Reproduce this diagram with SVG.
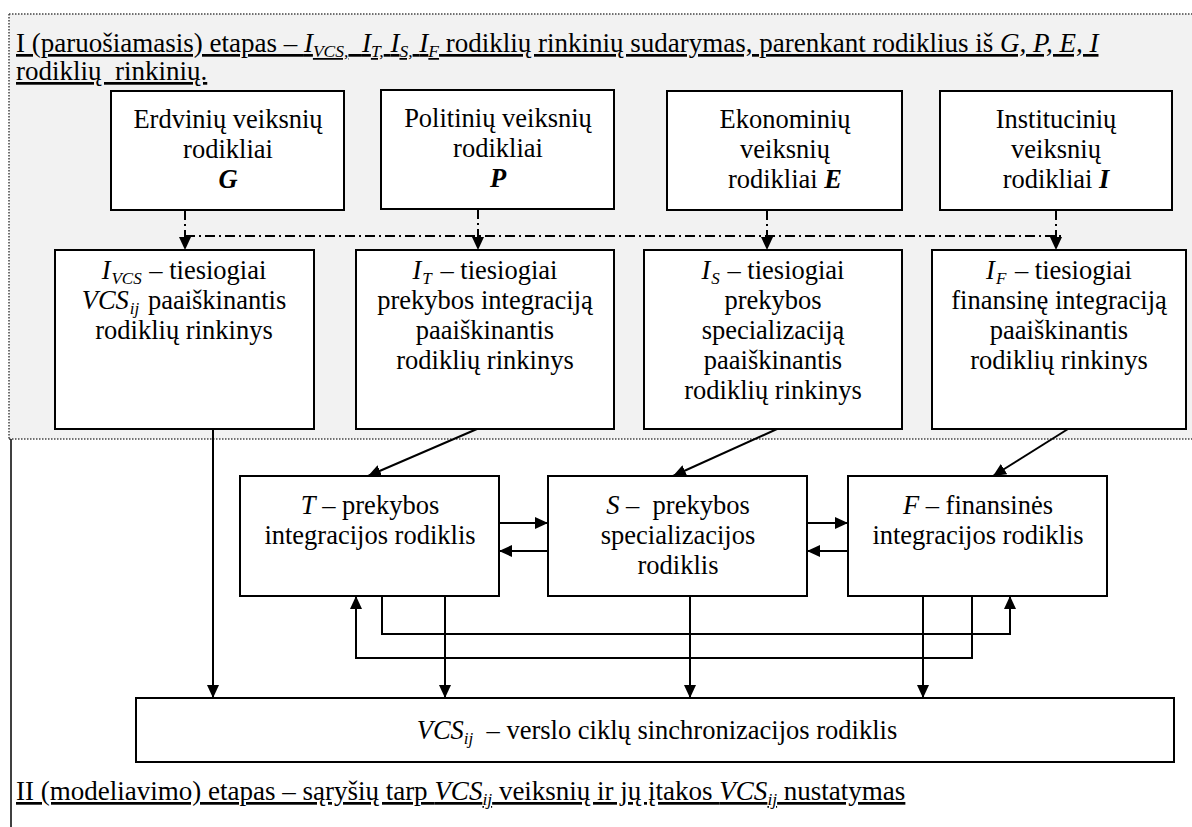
<svg xmlns="http://www.w3.org/2000/svg" width="1192" height="827" viewBox="0 0 1192 827">
  <defs>
    <marker id="arrow" markerUnits="userSpaceOnUse" markerWidth="14" markerHeight="12" refX="13" refY="6" orient="auto">
      <path d="M0,0 L13,6 L0,12 z" fill="#000"/>
    </marker>
    <style>
      text { font-family: "Liberation Serif", "Times New Roman", serif; font-size: 26.5px; fill: #000; }
      .c { text-anchor: middle; }
      .i { font-style: italic; }
      .bi { font-style: italic; font-weight: bold; }
      .sub { font-size: 17px; }
      .u { text-decoration: underline; font-size: 27px; }
      .u .sub { font-size: 17.5px; }
      .box { fill: #fff; stroke: #000; stroke-width: 2; }
      .wire { fill: none; stroke: #000; stroke-width: 2; }
      .dd { fill: none; stroke: #000; stroke-width: 2; stroke-dasharray: 10 4 2 4; }
      .frame { fill: none; stroke: #444; stroke-width: 1.5; stroke-dasharray: 1.5 1.5; }
    </style>
  </defs>

  <rect x="0" y="0" width="1192" height="827" fill="#fff"/>

  <!-- stage I area -->
  <g id="stage1">
    <rect x="9" y="14" width="1183" height="425" fill="#f2f2f2"/>
    <path class="frame" d="M9,14 H1192 M9,14 V439 M9,439 H1192"/>
    <text x="16" y="52" class="u" xml:space="preserve">I (paruošiamasis) etapas – <tspan class="i">I</tspan><tspan class="i sub" dy="5">VCS,</tspan><tspan dy="-5">  </tspan><tspan class="i">I</tspan><tspan class="i sub" dy="5">T,</tspan><tspan dy="-5"> </tspan><tspan class="i">I</tspan><tspan class="i sub" dy="5">S,</tspan><tspan dy="-5"> </tspan><tspan class="i">I</tspan><tspan class="i sub" dy="5">F</tspan><tspan dy="-5"> rodiklių rinkinių sudarymas, parenkant rodiklius iš </tspan><tspan class="i">G, P, E, I</tspan></text>
    <text x="16" y="80" class="u" xml:space="preserve">rodiklių  rinkinių.</text>
  </g>

  <!-- stage II area -->
  <g id="stage2">
    <path d="M11,439 V827" stroke="#000" stroke-width="1.5" fill="none"/>
    <text x="16" y="800" class="u">II (modeliavimo) etapas – sąryšių tarp <tspan class="i">VCS</tspan><tspan class="i sub" dy="5">ij</tspan><tspan dy="-5"> veiksnių ir jų įtakos </tspan><tspan class="i">VCS</tspan><tspan class="i sub" dy="5">ij</tspan><tspan dy="-5"> nustatymas</tspan></text>
  </g>

  <!-- factor groups -->
  <g id="node-G">
    <rect class="box" x="111" y="91" width="233" height="119"/>
    <text class="c" x="228" y="128">Erdvinių veiksnių</text>
    <text class="c" x="228" y="158">rodikliai</text>
    <text class="c bi" x="228" y="188">G</text>
  </g>
  <g id="node-P">
    <rect class="box" x="381" y="90" width="233" height="119"/>
    <text class="c" x="498" y="127">Politinių veiksnių</text>
    <text class="c" x="498" y="157">rodikliai</text>
    <text class="c bi" x="498" y="187">P</text>
  </g>
  <g id="node-E">
    <rect class="box" x="667" y="91" width="235" height="119"/>
    <text class="c" x="785" y="128">Ekonominių</text>
    <text class="c" x="785" y="158">veiksnių</text>
    <text class="c" x="785" y="188">rodikliai <tspan class="bi">E</tspan></text>
  </g>
  <g id="node-I">
    <rect class="box" x="940" y="91" width="232" height="119"/>
    <text class="c" x="1056" y="128">Institucinių</text>
    <text class="c" x="1056" y="158">veiksnių</text>
    <text class="c" x="1056" y="188">rodikliai <tspan class="bi">I</tspan></text>
  </g>

  <!-- indicator sets -->
  <g id="node-IVCS">
    <rect class="box" x="55" y="250" width="259" height="179"/>
    <text class="c" x="184" y="279"><tspan class="i">I</tspan><tspan class="i sub" dy="5" dx="1">VCS</tspan><tspan dy="-5" dx="1"> – tiesiogiai</tspan></text>
    <text class="c" x="184" y="309"><tspan class="i">VCS</tspan><tspan class="i sub" dy="5" dx="1">ij</tspan><tspan dy="-5" dx="2"> paaiškinantis</tspan></text>
    <text class="c" x="184" y="339">rodiklių rinkinys</text>
  </g>
  <g id="node-IT">
    <rect class="box" x="356" y="250" width="258" height="179"/>
    <text class="c" x="485" y="279"><tspan class="i">I</tspan><tspan class="i sub" dy="5" dx="1">T</tspan><tspan dy="-5" dx="2"> – tiesiogiai</tspan></text>
    <text class="c" x="485" y="309">prekybos integraciją</text>
    <text class="c" x="485" y="339">paaiškinantis</text>
    <text class="c" x="485" y="369">rodiklių rinkinys</text>
  </g>
  <g id="node-IS">
    <rect class="box" x="644" y="250" width="258" height="179"/>
    <text class="c" x="773" y="279"><tspan class="i">I</tspan><tspan class="i sub" dy="5" dx="1">S</tspan><tspan dy="-5" dx="1"> – tiesiogiai</tspan></text>
    <text class="c" x="773" y="309">prekybos</text>
    <text class="c" x="773" y="339">specializaciją</text>
    <text class="c" x="773" y="369">paaiškinantis</text>
    <text class="c" x="773" y="399">rodiklių rinkinys</text>
  </g>
  <g id="node-IF">
    <rect class="box" x="932" y="250" width="254" height="179"/>
    <text class="c" x="1059" y="279"><tspan class="i">I</tspan><tspan class="i sub" dy="5" dx="1">F</tspan><tspan dy="-5" dx="2"> – tiesiogiai</tspan></text>
    <text class="c" x="1059" y="309">finansinę integraciją</text>
    <text class="c" x="1059" y="339">paaiškinantis</text>
    <text class="c" x="1059" y="369">rodiklių rinkinys</text>
  </g>

  <!-- integration indicators -->
  <g id="node-T">
    <rect class="box" x="240" y="476" width="259" height="120"/>
    <text class="c" x="370" y="514"><tspan class="i">T</tspan> – prekybos</text>
    <text class="c" x="370" y="544">integracijos rodiklis</text>
  </g>
  <g id="node-S">
    <rect class="box" x="548" y="476" width="259" height="120"/>
    <text class="c" x="678" y="514" xml:space="preserve"><tspan class="i">S</tspan> –  prekybos</text>
    <text class="c" x="678" y="544">specializacijos</text>
    <text class="c" x="678" y="574">rodiklis</text>
  </g>
  <g id="node-F">
    <rect class="box" x="848" y="476" width="259" height="120"/>
    <text class="c" x="978" y="514"><tspan class="i">F</tspan> – finansinės</text>
    <text class="c" x="978" y="544">integracijos rodiklis</text>
  </g>

  <!-- synchronization indicator -->
  <g id="node-VCS">
    <rect class="box" x="136" y="698" width="1038" height="64"/>
    <text class="c" x="657" y="739" xml:space="preserve"><tspan class="i">VCS</tspan><tspan class="i sub" dy="5">ij</tspan><tspan dy="-5">  – verslo ciklų sinchronizacijos rodiklis</tspan></text>
  </g>

  <!-- connectors -->
  <g id="connectors">
    <!-- selection of indicators (dash-dot) -->
    <path class="dd" d="M185,236 H1064"/>
    <path class="dd" d="M185,210 V250" marker-end="url(#arrow)"/>
    <path class="dd" d="M478,209 V250" marker-end="url(#arrow)"/>
    <path class="dd" d="M767,210 V250" marker-end="url(#arrow)"/>
    <path class="dd" d="M1056,210 V250" marker-end="url(#arrow)"/>

    <!-- sets to indicators -->
    <path class="wire" d="M477,429 L368,476" marker-end="url(#arrow)"/>
    <path class="wire" d="M777,429 L673,476" marker-end="url(#arrow)"/>
    <path class="wire" d="M1068,429 L993,476" marker-end="url(#arrow)"/>
    <path class="wire" d="M213,429 V698" marker-end="url(#arrow)"/>

    <!-- mutual links between indicators -->
    <path class="wire" d="M499,523 H548" marker-end="url(#arrow)"/>
    <path class="wire" d="M548,551 H499" marker-end="url(#arrow)"/>
    <path class="wire" d="M807,523 H848" marker-end="url(#arrow)"/>
    <path class="wire" d="M848,551 H807" marker-end="url(#arrow)"/>
    <path class="wire" d="M382,596 V634 H1010 V596" marker-end="url(#arrow)"/>
    <path class="wire" d="M972,596 V658 H356 V596" marker-end="url(#arrow)"/>

    <!-- indicators to VCS -->
    <path class="wire" d="M445,596 V698" marker-end="url(#arrow)"/>
    <path class="wire" d="M690,596 V698" marker-end="url(#arrow)"/>
    <path class="wire" d="M923,596 V698" marker-end="url(#arrow)"/>
  </g>
</svg>
